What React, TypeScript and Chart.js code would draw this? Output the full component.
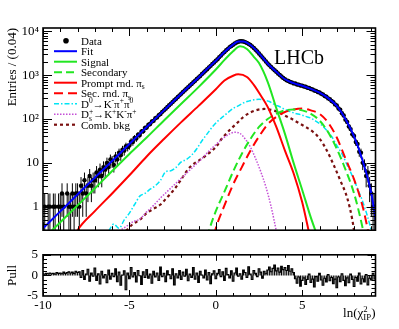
import React, { useEffect, useRef } from 'react';
import { Chart, registerables } from 'chart.js';

Chart.register(...registerables);

const SERIF = '"Liberation Serif", "DejaVu Serif", "Times New Roman", serif';

// ---------- binned data (bin centres start at binStart, spacing binStep) ----------
const binStart = -10;
const binStep = 0.1;
const dataCounts = [
  0, 1, 0, 1, 1, 0, 1, 1, 0, 1,
  1, 2, 1, 0, 2, 1, 1, 2, 1, 2,
  2, 1, 3, 2, 4, 2, 3, 5, 3, 4,
  4, 6, 5, 7, 5, 8, 7, 10, 8, 12,
  11, 9, 14, 12, 17, 15, 20, 19, 24, 23,
  25, 31, 30, 37, 36, 44, 43, 52, 53, 63,
  64, 74, 77, 88, 91, 104, 109, 123, 130, 146,
  158, 173, 188, 206, 225, 245, 268, 292, 319, 348,
  380, 414, 451, 491, 535, 582, 634, 690, 752, 819,
  893, 968, 1068, 1152, 1270, 1375, 1518, 1640, 1812, 1958,
  2150, 2330, 2600, 2810, 3120, 3380, 3720, 4010, 4400, 4670,
  4980, 5300, 5580, 5820, 5960, 5980, 5880, 5700, 5480, 5200,
  4900, 4560, 4190, 3820, 3480, 3150, 2840, 2560, 2300, 2070,
  1860, 1690, 1550, 1420, 1300, 1200, 1100, 1020, 940, 870,
  815, 765, 742, 700, 688, 652, 648, 615, 610, 584,
  580, 552, 548, 520, 512, 486, 476, 448, 440, 414,
  404, 378, 364, 336, 324, 296, 284, 258, 244, 216,
  204, 174, 163, 136, 121, 97, 86, 68, 59, 45,
  41, 30, 27, 18, 17, 10, 9, 5, 6, 3,
  2, 1, 1,
];
const pullValues = [
  0.4, 0.3, 0.5, 0.4, 0.6, 0.4, 0.5, 0.3, 0.7, 0.5,
  0.6, 0.4, 0.8, 0.5, 0.7, 0.9, 0.6, 0.8, 0.5, 1.0, 0.7,
  0.9, -0.5, 1.2, -1.0, 0.3, 1.5, -1.4, 0.6, -0.2, 1.8,
  -1.2, 0.4, -2.1, 1.0, -0.6, 0.2, -1.8, 1.3, -0.9, 0.5,
  -0.3, 1.6, -1.5, 0.8, -2.4, 0.1, 1.1, -3.5, 0.6, -0.8,
  1.9, -0.4, 0.7, -1.6, 1.2, -0.1, -2.2, 0.9, -0.5,
  1.4, -0.7, 0.3, -1.9, 1.0, -0.4, 0.6, -1.2, 2.0, -0.3,
  0.5, -1.5, 1.1, 0.2, -0.8, 1.6, -2.3, 0.4, -0.6, 1.2,
  -1.0, 0.8, -0.2, 1.5, -1.3, 0.3, -0.5, 1.9, -0.9, 0.6,
  -1.7, 1.0, 0.1, -0.6, 1.3, -1.1, 0.7, -2.0, 0.4, 1.1,
  -0.8, 0.5, 1.4, -0.3, 0.9, -1.2, 1.7, 0.2, -0.6, 1.1,
  -1.4, 0.6, 1.8, -0.2, 0.4, -0.9, 1.3, 0.7, -0.5, 2.1,
  0.3, -1.0, 1.2, 0.5, -0.3, 1.6, 0.8, -0.7, 1.0, 0.4,
  1.3, 2.0, 0.9, 1.7, 2.5, 1.1, 1.8, 0.8, 2.2, 1.4,
  1.9, 1.2, 2.4, 1.0, 1.6, 0.7,
  -0.8, -1.9, -0.4, -2.6, -1.2, -0.6, -2.2, -1.0, 0.3, -1.7,
  -0.9, -2.8, -0.3, -1.4, 0.5, -1.1, -2.4, -0.7, -1.6, 0.2,
  -1.3, -0.5, -2.0, -0.9, -3.0, -0.4, -1.5, 0.4, -1.2, -2.5,
  -0.6, -1.8, 0.3, -1.0, -2.7, -0.5, -1.4, 0.6, -2.1, -0.8,
  -1.6, 0.2, -2.3, -0.7, -1.1, 0.5, -0.9,
];

// ---------- fitted components ----------
const fitX = [-10, -9, -8, -7, -6, -5, -4, -3, -2, -1, -0.5, 0, 0.5, 1, 1.3, 1.6, 2, 2.5, 3, 3.5, 4, 4.5, 5, 5.5, 6, 6.5, 7, 7.5, 8, 8.5, 9, 9.25];
const fitY = [0.32, 0.78, 1.9, 4.6, 11, 27, 66, 158, 380, 890, 1400, 2140, 3390, 5000, 5900, 5900, 4900, 3160, 1860, 1200, 810, 660, 575, 490, 400, 300, 200, 100, 40, 11, 2, 0.5];

const signalX = [-10, -9, -8, -7, -6, -5, -4, -3, -2, -1, 0, 0.5, 1, 1.4, 1.8, 2.2, 2.5, 3, 3.5, 4, 4.5, 5, 5.5, 5.9];
const signalY = [0.18, 0.44, 1.07, 2.6, 6.5, 16, 38, 93, 224, 537, 1350, 2240, 3550, 4570, 3980, 2630, 1900, 710, 178, 46, 10, 2.4, 0.56, 0.2];

const secondaryX = [-0.5, -0.4, 0, 0.5, 1, 1.5, 2, 2.5, 3, 3.5, 4, 4.5, 5, 5.5, 6, 6.5, 7, 7.5, 8, 8.5, 8.6];
const secondaryY = [0.2, 0.28, 0.79, 2.2, 6.3, 16, 35, 66, 100, 132, 158, 166, 158, 132, 93, 50, 21, 7.1, 2, 0.32, 0.2];

const promptX = [-8.2, -8, -7, -6, -5, -4, -3, -2, -1, 0, 0.5, 1, 1.3, 1.8, 2.2, 2.5, 3, 3.5, 4, 4.5, 5, 5.4];
const promptY = [0.2, 0.29, 0.79, 2.0, 5.2, 14, 35, 85, 200, 479, 759, 977, 1050, 912, 603, 398, 190, 66, 19, 5.8, 1.26, 0.25];

const secRndX = [-0.1, 0, 0.5, 1, 1.5, 2, 2.5, 3, 3.5, 4, 4.5, 5, 5.5, 6, 6.5, 7, 7.5, 8, 8.5, 8.8, 8.9];
const secRndY = [0.22, 0.32, 1.07, 3.2, 7.9, 19, 40, 76, 112, 145, 166, 174, 158, 132, 83, 38, 12.6, 4.2, 1.0, 0.29, 0.18];

const d0X = [-6.2, -5.9, -5.6, -5.3, -5.0, -4.7, -4.4, -4.1, -3.8, -3.5, -3.2, -2.9, -2.6, -2.3, -2.0, -1.7, -1.4, -1.1, -0.8, -0.5, -0.2, 0.1, 0.4, 0.7, 1.0, 1.3, 1.6, 1.9, 2.2, 2.5, 2.8, 3.1, 3.4, 3.7, 4.0, 4.3, 4.6, 4.9, 5.2, 5.5, 5.8, 6.1, 6.4, 6.7, 7.0, 7.3, 7.6, 7.9, 8.2, 8.5, 8.8, 9.0];
const d0Y = [0.28, 0.4, 0.32, 0.5, 0.71, 1.12, 1.74, 2.0, 2.5, 3.0, 4.0, 6.3, 6.6, 7.9, 10.5, 12, 15, 21, 32, 46, 66, 89, 112, 141, 174, 200, 234, 257, 275, 282, 269, 251, 214, 191, 166, 148, 135, 126, 115, 105, 89, 74, 56, 40, 25, 16, 8.9, 5, 2.6, 1.3, 0.56, 0.28];

const dsX = [-5.6, -5.2, -4.8, -4.4, -4, -3.6, -3.2, -2.8, -2.4, -2, -1.6, -1.2, -0.8, -0.4, 0, 0.4, 0.8, 1.1, 1.4, 1.7, 2.0, 2.3, 2.6, 2.9, 3.2, 3.5];
const dsY = [0.28, 0.35, 0.45, 0.52, 0.76, 1.07, 1.58, 2.24, 3.16, 4.47, 6.3, 8.9, 12.6, 18.6, 26, 36, 46, 50, 47, 35, 23, 12.6, 6.3, 2.8, 1.0, 0.28];

const combX = [-5.2, -4.8, -4.4, -4.0, -3.6, -3.2, -2.8, -2.4, -2.0, -1.6, -1.2, -0.8, -0.4, 0, 0.4, 0.8, 1.2, 1.6, 2.0, 2.4, 2.8, 3.2, 3.6, 4.0, 4.4, 4.8, 5.2, 5.6, 6.0, 6.4, 6.8, 7.2, 7.6, 7.9, 8.0];
const combY = [0.28, 0.4, 0.5, 0.71, 0.89, 1.12, 1.66, 2.5, 4.2, 7.2, 10, 12.6, 16.6, 23, 38, 56, 79, 112, 141, 162, 170, 162, 145, 120, 100, 81, 66, 52, 36, 20, 9.3, 4.0, 1.6, 0.5, 0.28];

// ---------- axes ----------
const xMin = -10;
const xMax = 9.24;
const yMin = 0.29;
const yMax = 12000;
const yTickValues = [1, 10, 100, 1000, 10000];
const yTickLabels = ['1', '10', '10²', '10³', '10⁴'];
const xTickValues = [-10, -5, 0, 5];
const pullMin = -5;
const pullMax = 5;
const pullTickValues = [-5, 0, 5];

// ---------- styles ----------
const C_FIT = '#0000ff';
const C_GREEN = '#22e622';
const C_RED = '#ff0000';
const C_CYAN = '#00e5f5';
const C_MAG = '#c44fd6';
const C_BROWN = '#7a1010';

type Seg = { t: string; sub?: string; sup?: string };

function drawRich(ctx: CanvasRenderingContext2D, segs: Seg[], x: number, y: number, size: number) {
  let cx = x;
  ctx.textBaseline = 'alphabetic';
  ctx.textAlign = 'left';
  for (const s of segs) {
    ctx.font = `${size}px ${SERIF}`;
    ctx.fillText(s.t, cx, y);
    cx += ctx.measureText(s.t).width;
    if (s.sub || s.sup) {
      ctx.font = `${size * 0.68}px ${SERIF}`;
      let w = 0;
      if (s.sup) {
        ctx.fillText(s.sup, cx, y - size * 0.4);
        w = Math.max(w, ctx.measureText(s.sup).width);
      }
      if (s.sub) {
        ctx.fillText(s.sub, cx, y + size * 0.25);
        w = Math.max(w, ctx.measureText(s.sub).width);
      }
      cx += w;
    }
  }
  return cx;
}

function richWidth(ctx: CanvasRenderingContext2D, segs: Seg[], size: number) {
  let w = 0;
  for (const s of segs) {
    ctx.font = `${size}px ${SERIF}`;
    w += ctx.measureText(s.t).width;
    if (s.sub || s.sup) {
      ctx.font = `${size * 0.68}px ${SERIF}`;
      w += Math.max(s.sup ? ctx.measureText(s.sup).width : 0, s.sub ? ctx.measureText(s.sub).width : 0);
    }
  }
  return w;
}

type LegendItem = { label: Seg[]; marker?: boolean; color?: string; dash?: number[]; width?: number };
const legendItems: LegendItem[] = [
  { label: [{ t: 'Data' }], marker: true },
  { label: [{ t: 'Fit' }], color: C_FIT, dash: [], width: 2 },
  { label: [{ t: 'Signal' }], color: C_GREEN, dash: [], width: 2 },
  { label: [{ t: 'Secondary' }], color: C_GREEN, dash: [8, 4], width: 2 },
  { label: [{ t: 'Prompt rnd. π', sub: 's' }], color: C_RED, dash: [], width: 2 },
  { label: [{ t: 'Sec. rnd. π', sub: 's' }], color: C_RED, dash: [9, 5], width: 2 },
  { label: [{ t: 'D', sup: '0' }, { t: '→K', sup: '-' }, { t: 'π', sup: '+' }, { t: 'π', sup: '0' }], color: C_CYAN, dash: [5, 2, 1.5, 2], width: 1.5 },
  { label: [{ t: 'D', sub: 's', sup: '+' }, { t: '→K', sup: '+' }, { t: 'K', sup: '-' }, { t: 'π', sup: '+' }], color: C_MAG, dash: [1.5, 1.5], width: 1.5 },
  { label: [{ t: 'Comb. bkg' }], color: C_BROWN, dash: [3, 3], width: 2.2 },
];

function xTickMarks() {
  const out: { v: number; major: boolean }[] = [];
  for (let v = -10; v <= 9; v += 1) out.push({ v, major: v % 5 === 0 });
  return out;
}

const framePlugin = {
  id: 'rootFrame',
  afterDatasetsDraw(chart: any, _args: any, opts: any) {
    const { ctx, chartArea: a, scales } = chart;
    const xs = scales.x;
    const ys = scales.y;
    ctx.save();
    ctx.strokeStyle = '#000';
    ctx.lineWidth = 1;
    ctx.beginPath();
    for (const t of xTickMarks()) {
      const px = Math.round(xs.getPixelForValue(t.v)) + 0.5;
      if (px < a.left || px > a.right) continue;
      const len = t.major ? opts.xMajor : opts.xMinor;
      ctx.moveTo(px, a.bottom);
      ctx.lineTo(px, a.bottom - len);
      ctx.moveTo(px, a.top);
      ctx.lineTo(px, a.top + len);
    }
    for (const t of opts.yTicks as { v: number; major: boolean }[]) {
      const py = Math.round(ys.getPixelForValue(t.v)) + 0.5;
      if (py < a.top - 0.1 || py > a.bottom + 0.1) continue;
      const len = t.major ? opts.yMajor : opts.yMinor;
      ctx.moveTo(a.left, py);
      ctx.lineTo(a.left + len, py);
      ctx.moveTo(a.right, py);
      ctx.lineTo(a.right - len, py);
    }
    ctx.stroke();
    ctx.lineWidth = 1.6;
    ctx.strokeRect(a.left, a.top, a.right - a.left, a.bottom - a.top);
    ctx.restore();
  },
};

const errorBarPlugin = {
  id: 'errBars',
  beforeDatasetsDraw(chart: any) {
    const { ctx, chartArea: a, scales } = chart;
    const xs = scales.x;
    const ys = scales.y;
    ctx.save();
    ctx.beginPath();
    ctx.rect(a.left, a.top, a.right - a.left, a.bottom - a.top);
    ctx.clip();
    ctx.strokeStyle = '#000';
    ctx.lineWidth = 1;
    ctx.beginPath();
    dataCounts.forEach((n, i) => {
      if (!n) return;
      const xv = binStart + i * binStep;
      const e = Math.sqrt(n);
      const px = xs.getPixelForValue(xv);
      const lo = n - e > yMin ? ys.getPixelForValue(n - e) : a.bottom;
      const hi = ys.getPixelForValue(n + e);
      ctx.moveTo(px, lo);
      ctx.lineTo(px, hi);
      const py = ys.getPixelForValue(n);
      ctx.moveTo(xs.getPixelForValue(xv - binStep / 2), py);
      ctx.lineTo(xs.getPixelForValue(xv + binStep / 2), py);
    });
    ctx.stroke();
    ctx.restore();
  },
};

const overlayPlugin = {
  id: 'overlay',
  afterDraw(chart: any) {
    const { ctx } = chart;
    ctx.save();
    ctx.fillStyle = '#000';
    ctx.font = `20px ${SERIF}`;
    ctx.textAlign = 'left';
    ctx.textBaseline = 'alphabetic';
    ctx.fillText('LHCb', 274, 64);
    const rowH = 10.5;
    legendItems.forEach((it, i) => {
      const base = 44.5 + i * rowH;
      const cy = base - 3.8;
      if (it.marker) {
        ctx.beginPath();
        ctx.arc(66, cy, 2.8, 0, Math.PI * 2);
        ctx.fillStyle = '#000';
        ctx.fill();
      } else {
        ctx.strokeStyle = it.color!;
        ctx.lineWidth = it.width!;
        ctx.setLineDash(it.dash!);
        ctx.beginPath();
        ctx.moveTo(54, cy);
        ctx.lineTo(77, cy);
        ctx.stroke();
        ctx.setLineDash([]);
      }
      ctx.fillStyle = '#000';
      drawRich(ctx, it.label, 81, base, 11);
    });
    ctx.restore();
  },
};

const xTitlePlugin = {
  id: 'xTitle',
  afterDraw(chart: any) {
    const { ctx, chartArea: a } = chart;
    const segs: Seg[] = [{ t: 'ln(χ', sup: '2', sub: 'IP' }, { t: ')' }];
    ctx.save();
    ctx.fillStyle = '#000';
    const w = richWidth(ctx, segs, 13);
    drawRich(ctx, segs, a.right - w, 75, 13);
    ctx.restore();
  },
};

function pts(xs: number[], ys: number[]) {
  return xs.map((x, i) => ({ x, y: ys[i] }));
}

function curve(label: string, xs: number[], ys: number[], color: string, width: number, dash: number[]) {
  return {
    type: 'line' as const,
    label,
    data: pts(xs, ys),
    borderColor: color,
    borderWidth: width,
    borderDash: dash,
    pointRadius: 0,
    fill: false,
    cubicInterpolationMode: 'monotone' as const,
  };
}

function logYTicks() {
  const out: { v: number; major: boolean }[] = [];
  for (const d of [0.1, 1, 10, 100, 1000, 10000]) {
    for (let k = 1; k <= 9; k++) out.push({ v: k * d, major: k === 1 });
  }
  return out;
}

function pullYTicks() {
  const out: { v: number; major: boolean }[] = [];
  for (let v = -5; v <= 5; v++) out.push({ v, major: v % 5 === 0 });
  return out;
}

export default function App() {
  const mainRef = useRef<HTMLCanvasElement>(null);
  const pullRef = useRef<HTMLCanvasElement>(null);

  useEffect(() => {
    const dataPts = dataCounts.map((n, i) => ({ x: binStart + i * binStep, y: n > 0 ? n : null }));
    const main = new Chart(mainRef.current!, {
      type: 'line',
      data: {
        datasets: [
          curve('Fit', fitX, fitY, C_FIT, 2, []),
          curve('Signal', signalX, signalY, C_GREEN, 2, []),
          curve('Prompt rnd', promptX, promptY, C_RED, 2, []),
          curve('Secondary', secondaryX, secondaryY, C_GREEN, 2, [8, 4]),
          curve('Sec. rnd', secRndX, secRndY, C_RED, 2, [9, 5]),
          curve('D0', d0X, d0Y, C_CYAN, 1.5, [5, 2, 1.5, 2]),
          curve('Ds', dsX, dsY, C_MAG, 1.5, [1.5, 1.5]),
          curve('Comb', combX, combY, C_BROWN, 2.2, [3, 3]),
          {
            type: 'line',
            label: 'Data',
            data: dataPts as any,
            showLine: false,
            pointRadius: 2.2,
            pointBackgroundColor: '#000',
            pointBorderColor: '#000',
            pointBorderWidth: 0,
          },
        ] as any,
      },
      options: {
        responsive: false,
        animation: false,
        devicePixelRatio: 1,
        events: [],
        layout: { padding: { left: 0, right: 23.5, top: 28, bottom: 10 } },
        plugins: {
          legend: { display: false },
          tooltip: { enabled: false },
          rootFrame: { xMajor: 8, xMinor: 4, yMajor: 9, yMinor: 5, yTicks: logYTicks() },
        } as any,
        scales: {
          x: { type: 'linear', min: xMin, max: xMax, display: false },
          y: {
            type: 'logarithmic',
            min: yMin,
            max: yMax,
            afterFit: (s: any) => { s.width = 43; },
            afterBuildTicks: (s: any) => { s.ticks = yTickValues.map((v) => ({ value: v })); },
            grid: { display: false, drawTicks: false },
            border: { display: false },
            ticks: {
              padding: 4,
              color: '#000',
              font: { family: SERIF, size: 13 },
              callback: (v: any) => yTickLabels[yTickValues.indexOf(Number(v))] ?? '',
            },
            title: {
              display: true,
              text: 'Entries / (0.04)',
              align: 'end',
              color: '#000',
              font: { family: SERIF, size: 13 },
              padding: { top: 5, bottom: 0 },
            },
          },
        } as any,
      },
      plugins: [errorBarPlugin, framePlugin, overlayPlugin],
    });

    const pullPts = pullValues.map((v, i) => ({ x: binStart + i * binStep, y: v }));
    const pull = new Chart(pullRef.current!, {
      type: 'bar',
      data: {
        datasets: [
          {
            type: 'line',
            data: pullPts as any,
            stepped: 'middle',
            borderColor: '#000',
            borderWidth: 1.1,
            pointRadius: 0,
            fill: false,
          },
          {
            type: 'bar',
            data: pullPts as any,
            backgroundColor: '#000',
            barPercentage: 0.6,
            categoryPercentage: 1,
            grouped: false,
          },
        ] as any,
      },
      options: {
        responsive: false,
        animation: false,
        devicePixelRatio: 1,
        events: [],
        layout: { padding: { left: 0, right: 23.5, top: 9, bottom: 0 } },
        plugins: {
          legend: { display: false },
          tooltip: { enabled: false },
          rootFrame: { xMajor: 6, xMinor: 3, yMajor: 8, yMinor: 4, yTicks: pullYTicks() },
        } as any,
        scales: {
          x: {
            type: 'linear',
            min: xMin,
            max: xMax,
            offset: false,
            afterFit: (s: any) => { s.height = 33; },
            afterBuildTicks: (s: any) => { s.ticks = xTickValues.map((v) => ({ value: v })); },
            grid: { display: false, drawTicks: false },
            border: { display: false },
            ticks: {
              padding: 2,
              maxRotation: 0,
              autoSkip: false,
              color: '#000',
              font: { family: SERIF, size: 13 },
              callback: (v: any) => String(v),
            },
          },
          y: {
            type: 'linear',
            min: pullMin,
            max: pullMax,
            afterFit: (s: any) => { s.width = 43; },
            afterBuildTicks: (s: any) => { s.ticks = pullTickValues.map((v) => ({ value: v })); },
            grid: { display: false, drawTicks: false },
            border: { display: false },
            ticks: {
              padding: 5,
              color: '#000',
              font: { family: SERIF, size: 13 },
              callback: (v: any) => String(v),
            },
            title: {
              display: true,
              text: 'Pull',
              align: 'center',
              color: '#000',
              font: { family: SERIF, size: 13 },
              padding: { top: 5, bottom: 0 },
            },
          },
        } as any,
      },
      plugins: [framePlugin, xTitlePlugin],
    });

    return () => {
      main.destroy();
      pull.destroy();
    };
  }, []);

  return (
    <div style={{ position: 'fixed', left: 0, top: 0, width: 399, height: 329, background: '#fff' }}>
      <canvas ref={mainRef} width={399} height={242} style={{ position: 'absolute', left: 0, top: 0, width: 399, height: 242 }} />
      <canvas ref={pullRef} width={399} height={87} style={{ position: 'absolute', left: 0, top: 242, width: 399, height: 87 }} />
    </div>
  );
}
